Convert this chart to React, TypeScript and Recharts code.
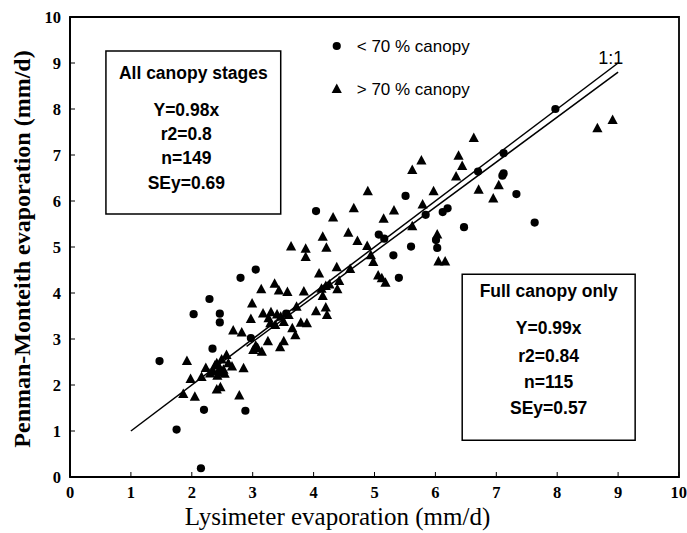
import React from 'react';
import { ScatterChart, Scatter, XAxis, YAxis, ReferenceArea, ReferenceLine, ReferenceDot } from 'recharts';

// ---- data ----
const axisTicks = [0, 1, 2, 3, 4, 5, 6, 7, 8, 9, 10];

// < 70 % canopy (circles): [lysimeter, penman-monteith]
const lowCanopy: [number, number][] = [
  [1.47, 2.52], [1.75, 1.03], [2.15, 0.19], [2.03, 3.54], [2.29, 3.87], [2.46, 3.55],
  [2.46, 3.36], [2.2, 1.46], [2.34, 2.79], [2.8, 4.33], [3.05, 4.51], [2.88, 1.44],
  [2.97, 3.02], [3.55, 3.55], [4.04, 5.78], [5.07, 5.27], [5.16, 5.18], [5.31, 4.82],
  [5.4, 4.33], [5.6, 5.01], [5.51, 6.11], [5.84, 5.7], [6.01, 5.15], [6.03, 4.98],
  [6.12, 5.76], [6.2, 5.84], [6.47, 5.43], [6.7, 6.64], [7.12, 7.04], [7.12, 6.6],
  [7.1, 6.55], [7.33, 6.15], [7.63, 5.53], [7.97, 8.0],
];

// > 70 % canopy (triangles)
const highCanopy: [number, number][] = [
  [1.92, 2.52], [1.98, 2.13], [2.16, 2.17], [1.86, 1.8], [2.05, 1.74], [2.41, 1.9],
  [2.47, 1.95], [2.78, 1.77], [2.85, 2.36], [2.23, 2.37], [2.41, 2.47], [2.49, 2.55],
  [2.6, 2.47], [2.35, 2.3], [2.46, 2.36], [2.54, 2.24], [2.42, 2.2], [2.66, 2.4],
  [2.38, 2.42], [2.52, 2.33], [2.3, 2.25], [2.45, 2.28], [2.57, 2.65], [2.68, 3.18],
  [2.82, 3.14], [2.97, 3.43], [2.99, 3.77], [3.01, 2.76], [3.08, 2.8], [3.15, 2.72],
  [3.05, 2.85], [3.25, 2.95], [3.45, 2.82], [3.51, 2.95], [3.7, 3.08], [3.65, 3.23],
  [3.29, 3.34], [3.37, 3.3], [3.51, 3.37], [3.59, 3.52], [3.79, 3.35], [3.89, 3.34],
  [3.72, 3.7], [3.17, 3.55], [3.26, 3.45], [3.4, 3.53], [3.3, 3.58], [3.46, 3.48],
  [3.14, 4.08], [3.36, 4.2], [3.43, 4.05], [3.57, 4.02], [3.84, 4.03], [3.63, 5.01],
  [3.87, 4.96], [3.87, 4.78], [4.04, 3.6], [4.2, 3.68], [4.22, 3.52], [4.15, 3.93],
  [4.13, 4.09], [4.2, 4.15], [4.26, 4.18], [4.09, 4.42], [4.38, 4.56], [4.42, 4.26],
  [4.39, 4.08], [4.6, 4.52], [4.15, 5.22], [4.21, 4.98], [4.32, 5.64], [4.66, 5.84],
  [4.57, 5.31], [4.72, 5.13], [4.89, 6.21], [4.88, 5.02], [4.94, 4.82], [4.98, 4.67],
  [5.06, 4.38], [5.18, 4.22], [5.12, 4.32], [5.15, 5.61], [5.32, 5.79], [5.62, 5.45],
  [5.62, 6.67], [5.77, 6.88], [5.79, 5.92], [5.97, 6.21], [6.03, 5.27], [6.05, 4.68],
  [6.16, 4.68], [6.38, 6.98], [6.44, 6.76], [6.34, 6.53], [6.63, 7.37], [6.71, 6.24],
  [6.95, 6.05], [7.04, 6.34], [8.66, 7.58], [8.91, 7.76],
];

const oneToOneLine = [{ x: 1, y: 1 }, { x: 9, y: 9 }];
const fitLine = [{ x: 2.9, y: 2.84 }, { x: 9, y: 8.8 }];

const allStagesText = ['All canopy stages', 'Y=0.98x', 'r2=0.8', 'n=149', 'SEy=0.69'];
const fullCanopyText = ['Full canopy only', 'Y=0.99x', 'r2=0.84', 'n=115', 'SEy=0.57'];
const legendLabels = ['< 70 % canopy', '> 70 % canopy'];
const legendPos = [{ x: 4.38, y: 9.37 }, { x: 4.38, y: 8.43 }];
const allStagesBox = { x1: 0.59, x2: 3.46, y1: 5.72, y2: 9.26 };
const fullCanopyBox = { x1: 6.44, x2: 9.28, y1: 0.8, y2: 4.41 };
const ratioLabel = { x: 8.88, y: 9.1, text: '1:1' };

const lowData = lowCanopy.map(([x, y]) => ({ x, y }));
const highData = highCanopy.map(([x, y]) => ({ x, y }));

// ---- styling helpers ----
const serif = '"Liberation Serif", "Times New Roman", serif';
const sans = '"Liberation Sans", Arial, sans-serif';

const CircleShape = (p: any) => <circle cx={p.cx} cy={p.cy} r={4.1} fill="#000" />;
const TriangleShape = (p: any) => {
  const { cx, cy } = p;
  return <polygon points={`${cx},${cy - 5.6} ${cx - 5.1},${cy + 3.9} ${cx + 5.1},${cy + 3.9}`} fill="#000" />;
};

const makeBoxLabel = (lines: string[], offsets: number[], shiftStats: number) => (props: any) => {
  const vb = props.viewBox || {};
  const cx = vb.x + vb.width / 2;
  return (
    <g>
      {lines.map((t, i) => (
        <text
          key={i}
          x={i === 0 ? cx : cx + shiftStats}
          y={vb.y + offsets[i]}
          textAnchor="middle"
          fontFamily={sans}
          fontWeight="bold"
          fontSize={17.5}
          fill="#000"
        >
          {t}
        </text>
      ))}
    </g>
  );
};

const legendShape = (idx: number) => (p: any) => (
  <g>
    {idx === 0 ? <CircleShape cx={p.cx} cy={p.cy} /> : <TriangleShape cx={p.cx} cy={p.cy} />}
    <text x={p.cx + 20} y={p.cy + 6} fontFamily={sans} fontSize={17} fill="#000">
      {legendLabels[idx]}
    </text>
  </g>
);

const ratioShape = (p: any) => (
  <text x={p.cx} y={p.cy + 6} textAnchor="middle" fontFamily={sans} fontSize={18} fill="#000">
    {ratioLabel.text}
  </text>
);

const XTitle = (props: any) => {
  const vb = props.viewBox || { x: 70, y: 477, width: 609, height: 56 };
  return (
    <text x={vb.x + vb.width / 2 - 37} y={vb.y + 48} textAnchor="middle" fontFamily={serif} fontSize={25} fill="#000">
      Lysimeter evaporation (mm/d)
    </text>
  );
};

const YTitle = (props: any) => {
  const vb = props.viewBox || { x: 0, y: 17, width: 70, height: 460 };
  const cy = vb.y + vb.height / 2 + 2;
  return (
    <text
      x={22}
      y={cy}
      transform={`rotate(-90, 22, ${cy})`}
      textAnchor="middle"
      dominantBaseline="central"
      fontFamily={serif}
      fontWeight="bold"
      fontSize={24}
      fill="#000"
    >
      Penman-Monteith evaporation (mm/d)
    </text>
  );
};

const tickStyle = { fontFamily: serif, fontWeight: 'bold', fontSize: 16.5, fill: '#000' };

export default function App() {
  return (
    <div style={{ position: 'absolute', left: 0, top: 0, width: 687, height: 533, background: '#fff' }}>
      <ScatterChart width={687} height={533} margin={{ top: 17, right: 8, bottom: 0, left: 0 }}>
        <XAxis
          type="number"
          dataKey="x"
          domain={[0, 10]}
          ticks={axisTicks}
          allowDataOverflow
          height={56}
          tickSize={-5}
          tickMargin={14}
          tick={tickStyle}
          axisLine={{ stroke: '#000', strokeWidth: 1.8 }}
          tickLine={{ stroke: '#000', strokeWidth: 1 }}
          label={XTitle}
        />
        <YAxis
          type="number"
          dataKey="y"
          domain={[0, 10]}
          ticks={axisTicks}
          allowDataOverflow
          width={70}
          tickSize={-5}
          tickMargin={14}
          tick={tickStyle}
          axisLine={{ stroke: '#000', strokeWidth: 1.8 }}
          tickLine={{ stroke: '#000', strokeWidth: 1 }}
          label={YTitle}
        />
        <ReferenceArea x1={0} x2={10} y1={0} y2={10} fill="none" stroke="#000" strokeWidth={1.8} ifOverflow="visible" />
        <ReferenceArea
          {...allStagesBox}
          fill="#fff"
          fillOpacity={1}
          stroke="#000"
          strokeWidth={1.5}
          ifOverflow="visible"
          label={makeBoxLabel(allStagesText, [28, 65, 89, 113, 138], -7)}
        />
        <ReferenceArea
          {...fullCanopyBox}
          fill="#fff"
          fillOpacity={1}
          stroke="#000"
          strokeWidth={1.5}
          ifOverflow="visible"
          label={makeBoxLabel(fullCanopyText, [23, 60, 88, 114, 140], 0)}
        />
        <ReferenceLine segment={oneToOneLine} stroke="#000" strokeWidth={1.5} ifOverflow="visible" />
        <ReferenceLine segment={fitLine} stroke="#000" strokeWidth={1.5} ifOverflow="visible" />
        <Scatter name="< 70 % canopy" data={lowData} shape={CircleShape} isAnimationActive={false} />
        <Scatter name="> 70 % canopy" data={highData} shape={TriangleShape} isAnimationActive={false} />
        {legendPos.map((p, i) => (
          <ReferenceDot key={i} x={p.x} y={p.y} r={0} shape={legendShape(i)} ifOverflow="visible" />
        ))}
        <ReferenceDot x={ratioLabel.x} y={ratioLabel.y} r={0} shape={ratioShape} ifOverflow="visible" />
      </ScatterChart>
    </div>
  );
}
